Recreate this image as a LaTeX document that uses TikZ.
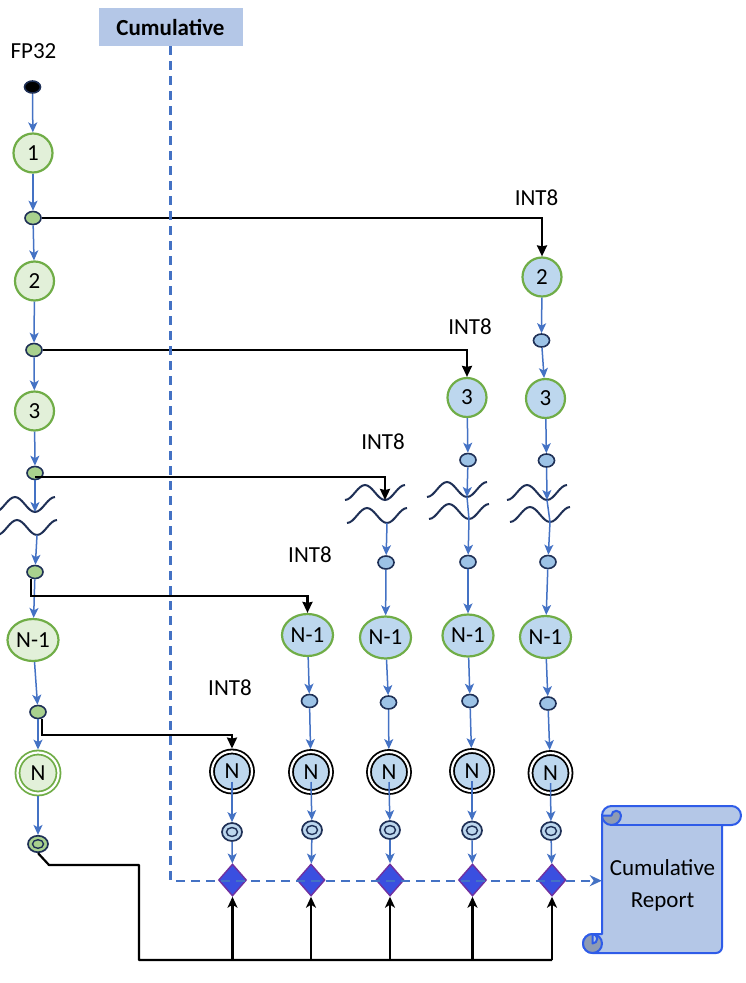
\documentclass[tikz,border=0pt]{standalone}
\usepackage{fontspec}
\setmainfont{Carlito}
\usetikzlibrary{shapes.geometric,arrows.meta,calc}
\definecolor{gborder}{HTML}{70AD47}
\definecolor{gfill}{HTML}{E2F0D9}
\definecolor{gdot}{HTML}{A9D18E}
\definecolor{bfill}{HTML}{BDD7EE}
\definecolor{bdot}{HTML}{9DC3E6}
\definecolor{navy}{HTML}{1F3056}
\definecolor{flowblue}{HTML}{4472C4}
\definecolor{dmfill}{HTML}{3A4FE0}
\definecolor{dmborder}{HTML}{7030A0}
\definecolor{repfill}{HTML}{B4C7E7}
\definecolor{repborder}{HTML}{2F5CE8}
\definecolor{curlgray}{HTML}{8E9BB3}
\definecolor{cumfill}{HTML}{B4C7E7}
\begin{document}
\begin{tikzpicture}[x=1pt,y=-1pt,
  every node/.style={font=\fontsize{23}{27}\selectfont, inner sep=0pt},
  numg/.style={circle, minimum size=39pt, draw=gborder, line width=2.2pt, fill=gfill},
  numb/.style={circle, minimum size=39pt, draw=gborder, line width=2.2pt, fill=bfill},
  ellg/.style={ellipse, minimum width=51pt, minimum height=42pt, draw=gborder, line width=2.2pt, fill=gfill},
  ellb/.style={ellipse, minimum width=51pt, minimum height=42pt, draw=gborder, line width=2.2pt, fill=bfill},
  endg/.style={circle, minimum size=41pt, draw=gborder, line width=1.8pt, double=white, double distance=2.2pt, fill=gfill, outer sep=2.9pt},
  endb/.style={circle, minimum size=40pt, draw=black, line width=1.8pt, double=white, double distance=2.2pt, fill=bfill, outer sep=2.9pt},
  startdot/.style={ellipse, minimum width=16pt, minimum height=12pt, draw=navy, line width=1.6pt, fill=black},
  dotg/.style={ellipse, minimum width=16pt, minimum height=13pt, draw=navy, line width=1.6pt, fill=gdot},
  dotb/.style={ellipse, minimum width=16pt, minimum height=13pt, draw=navy, line width=1.6pt, fill=bdot},
  ringg/.style={ellipse, minimum width=20pt, minimum height=16.5pt, draw=navy, line width=1.7pt, fill=gdot,
     path picture={\draw[navy,line width=1.4pt] (path picture bounding box.center) ellipse [x radius=5.5pt, y radius=4.3pt];}},
  ringb/.style={ellipse, minimum width=20pt, minimum height=18pt, draw=navy, line width=1.7pt, fill=bfill,
     path picture={\draw[navy,line width=1.4pt] (path picture bounding box.center) ellipse [x radius=5.5pt, y radius=4.5pt];}},
  dm/.style={diamond, minimum width=28pt, minimum height=32pt, draw=dmborder, line width=1.4pt, fill=dmfill},
  lbl/.style={font=\fontsize{23}{27}\selectfont},
  cumbox/.style={fill=cumfill, minimum width=144pt, minimum height=38pt, font=\fontsize{23}{27}\selectfont\bfseries},
  reptext/.style={minimum width=121pt, minimum height=120pt, align=center, font=\fontsize{23}{32}\selectfont},
  flow/.style={draw=flowblue, line width=1.5pt, -{Stealth[length=10pt,width=9pt,inset=2.5pt]}},
  flowline/.style={draw=flowblue, line width=1.5pt},
  branch/.style={draw=black, line width=2.2pt, -{Stealth[length=11pt,width=10pt,inset=1pt]}},
  fbline/.style={draw=black, line width=2.2pt},
  fbup/.style={draw=black, line width=2.2pt, -{Stealth[length=11pt,width=10pt,inset=3pt]}},
  dashflow/.style={draw=flowblue, line width=2.2pt, dash pattern=on 9pt off 6pt, -{Stealth[length=12pt,width=11pt]}},
  wavestroke/.style={draw=navy, line width=2pt}
]
\useasboundingbox (0,0) rectangle (746,983);

% ---------- Cumulative header ----------
\node[cumbox] (cum) at (170.5,27) {Cumulative};

% ---------- report scroll ----------
\begin{scope}[shift={(583,953)}, x=1pt, y=1pt, draw=repborder, line width=2pt, line join=round]
  \filldraw[fill=repfill] (19,137.5) arc[start angle=180, end angle=90, radius=9.5]
     -- (148.5,147) arc[start angle=90, end angle=-90, radius=9.5]
     -- (139,128) -- (139,6) arc[start angle=0, end angle=-90, radius=6]
     -- (9.5,0) arc[start angle=-90, end angle=-270, radius=9.5]
     -- (19,19) -- cycle;
  \draw (28.5,128) -- (139,128);
  \filldraw[fill=curlgray] (19,137.5) arc[start angle=180, end angle=360, radius=9.5]
     arc[start angle=0, end angle=180, radius=4.75] -- cycle;
  \filldraw[fill=curlgray] (9.5,9.5) circle[radius=9.5];
  \filldraw[fill=repfill] (9.5,19) arc[start angle=90, end angle=-90, radius=4.75] -- cycle;
\end{scope}
\node[reptext] (rep) at (662.5,885.5) {Cumulative\\Report};

% ---------- column 0 (FP32) ----------
\node[lbl] (fp) at (33.5,51) {FP32};
\node[startdot] (s0) at (32.5,87) {};
\node[numg] (a1) at (33,153) {1};
\node[dotg] (d1) at (33,218) {};
\node[numg] (a2) at (34.5,281) {2};
\node[dotg] (d2) at (34,350) {};
\node[numg] (a3) at (34.5,411) {3};
\node[dotg] (d3) at (35,473) {};
\coordinate (w0a) at (35,512);
\coordinate (w0b) at (37,535);
\node[dotg] (d4) at (35,572) {};
\node[ellg] (a4) at (33,640) {N-1};
\node[dotg] (d5) at (38,712) {};
\node[endg] (a5) at (38,773) {N};
\node[ringg] (e0) at (38,844) {};

% ---------- column 1 ----------
\node[lbl] (i1) at (230,688) {INT8};
\node[endb] (c1n) at (232,771.5) {N};
\node[ringb] (c1e) at (232,832) {};
\node[dm] (c1g) at (232.5,880) {};

% ---------- column 2 ----------
\node[lbl] (i2) at (310,555) {INT8};
\node[ellb] (c2m) at (307.5,635) {N-1};
\node[dotb] (c2d) at (309.5,701) {};
\node[endb] (c2n) at (311,772) {N};
\node[ringb] (c2e) at (312,830) {};
\node[dm] (c2g) at (311,880) {};

% ---------- column 3 ----------
\node[lbl] (i3) at (383,442) {INT8};
\coordinate (w3a) at (385,500);
\coordinate (w3b) at (387,523);
\node[dotb] (c3d1) at (386,562.5) {};
\node[ellb] (c3m) at (385.5,637.5) {N-1};
\node[dotb] (c3d2) at (388.5,702.5) {};
\node[endb] (c3n) at (389,772) {N};
\node[ringb] (c3e) at (390,830) {};
\node[dm] (c3g) at (390,880) {};

% ---------- column 4 ----------
\node[lbl] (i4) at (470,327) {INT8};
\node[numb] (c4a) at (467,397.5) {3};
\node[dotb] (c4d1) at (468,460) {};
\coordinate (w4a) at (467,497);
\coordinate (w4b) at (469,519);
\node[dotb] (c4d2) at (468,562) {};
\node[ellb] (c4m) at (468,635.5) {N-1};
\node[dotb] (c4d3) at (470,701) {};
\node[endb] (c4n) at (472,771) {N};
\node[ringb] (c4e) at (472,830.5) {};
\node[dm] (c4g) at (472.5,880) {};

% ---------- column 5 ----------
\node[lbl] (i5) at (536.5,197.5) {INT8};
\node[numb] (c5a) at (542,277) {2};
\node[dotb] (c5d1) at (541.5,340.5) {};
\node[numb] (c5b) at (545.5,398.5) {3};
\node[dotb] (c5d2) at (546.5,460.5) {};
\coordinate (w5a) at (547,500);
\coordinate (w5b) at (550,522);
\node[dotb] (c5d3) at (548,562) {};
\node[ellb] (c5m) at (545.5,637) {N-1};
\node[dotb] (c5d4) at (548,703.5) {};
\node[endb] (c5n) at (550.5,773) {N};
\node[ringb] (c5e) at (551,831) {};
\node[dm] (c5g) at (552,880) {};

% ---------- break waves ----------
\foreach \w in {w0a,w0b,w3a,w3b,w4a,w4b,w5a,w5b}
  \draw[wavestroke] ([xshift=-40pt]\w) cos ++(10,-7.5) sin ++(10,-7.5) cos ++(10,7.5) sin ++(10,7.5) cos ++(10,-7.5) sin ++(10,-7.5);

% ---------- blue flows ----------
\draw[flow] (s0) -- (a1);
\draw[flow] (a1) -- (d1);
\draw[flow] (d1) -- (a2);
\draw[flow] (a2) -- (d2);
\draw[flow] (d2) -- (a3);
\draw[flow] (a3) -- (d3);
\draw[flow] (d3) -- (w0a);
\draw[flow] (w0b) -- (d4);
\draw[flow] (d4) -- (a4);
\draw[flow] (a4) -- (d5);
\draw[flow] (d5) -- (a5);
\draw[flow] (a5) -- (e0);

\draw[flow] ([yshift=-10pt]c1n.center) -- (c1e);
\draw[flow] (c1e) -- (c1g);

\draw[flow] (c2m) -- (c2d);
\draw[flow] (c2d) -- (c2n);
\draw[flow] ([yshift=-10pt]c2n.center) -- (c2e);
\draw[flow] (c2e) -- (c2g);

\draw[flow] (w3b) -- (c3d1);
\draw[flow] (c3d1) -- (c3m);
\draw[flow] (c3m) -- (c3d2);
\draw[flow] (c3d2) -- (c3n);
\draw[flow] ([yshift=-10pt]c3n.center) -- (c3e);
\draw[flow] (c3e) -- (c3g);

\draw[flow] (c4a) -- (c4d1);
\draw[flow] (c4d1) -- (w4a);
\draw[flowline] (w4a) -- (w4b);
\draw[flow] (w4b) -- (c4d2);
\draw[flow] (c4d2) -- (c4m);
\draw[flow] (c4m) -- (c4d3);
\draw[flow] (c4d3) -- (c4n);
\draw[flow] ([yshift=-10pt]c4n.center) -- (c4e);
\draw[flow] (c4e) -- (c4g);

\draw[flow] (c5a) -- (c5d1);
\draw[flow] (c5d1) -- (c5b);
\draw[flow] (c5b) -- (c5d2);
\draw[flow] (c5d2) -- (w5a);
\draw[flowline] (w5a) -- (w5b);
\draw[flow] (w5b) -- (c5d3);
\draw[flow] (c5d3) -- (c5m);
\draw[flow] (c5m) -- (c5d4);
\draw[flow] (c5d4) -- (c5n);
\draw[flow] ([yshift=-10pt]c5n.center) -- (c5e);
\draw[flow] (c5e) -- (c5g);

% ---------- INT8 branches ----------
\draw[branch] (d1) -| (c5a);
\draw[branch] (d2) -| (c4a);
\draw[branch] ([yshift=-4pt]d3.center) -| (w3a);
\draw[branch] ([xshift=-4pt]d4.south) |- ($(c2m.north)+(0,-17)$) -- (c2m.north);
\draw[branch] ([xshift=4pt]d5.south) |- ($(c1n.north)+(0,-14)$) -- (c1n.north);

% ---------- feedback line ----------
\coordinate (fbA) at (49,865);
\coordinate (fbB) at (139,960);
\draw[fbline, line join=round] (e0.south) -- (fbA) -| (fbB) -- (c5g.south |- fbB);
\foreach \g in {c1g,c2g,c3g,c4g,c5g}
  \draw[fbup] (\g.south |- fbB) -- (\g.south);

% ---------- cumulative dashed path ----------
\draw[dashflow] (cum.south) |- ([yshift=4.8pt]rep.west);
\end{tikzpicture}
\end{document}
